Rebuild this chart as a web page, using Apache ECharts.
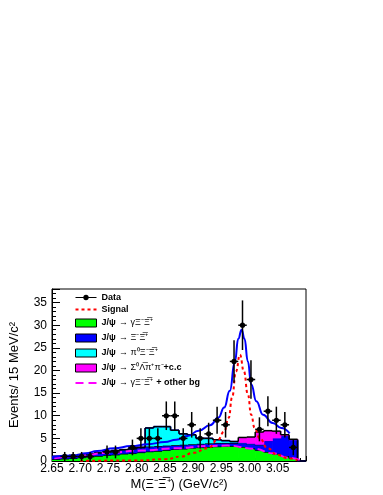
<!DOCTYPE html>
<html>
<head>
<meta charset="utf-8">
<script src="https://cdn.jsdelivr.net/npm/echarts@6/dist/echarts.min.js"></script>
<style>
html, body { margin: 0; padding: 0; background: #fff; }
#main { width: 383px; height: 495px; }
</style>
</head>
<body>
<div id="main"></div>
<script>
// 30 bins of 15 MeV
var binEdges = [2.650, 2.665, 2.680, 2.695, 2.710, 2.725, 2.740, 2.755, 2.770, 2.785,
                2.800, 2.815, 2.830, 2.845, 2.860, 2.875, 2.890, 2.905, 2.920, 2.935,
                2.950, 2.965, 2.980, 2.995, 3.010, 3.025, 3.040, 3.055, 3.070, 3.085, 3.100];

var dataCounts = [null, 1, 1, 1, 1, null, 2, 2, null, 3, 5, 5, 5, 10, 10,
                  5, 8, 5, 6, 9, 8, 22, 30, 18, 7, 11, 9, 8, 3, null];
var dataErrors = [null, 1, 1, 1, 1, null, 1.41, 1.41, null, 1.73, 2.24, 2.24, 2.24, 3.16, 3.16,
                  2.24, 2.83, 2.24, 2.45, 3, 2.83, 4.69, 5.48, 4.24, 2.65, 3.32, 3, 2.83, 1.73, null];

// stacked background histograms (bottom to top)
var gammaXiXi   = [0.4, 0.5, 0.6, 0.8, 1.0, 1.1, 1.3, 1.4, 1.6, 1.7, 1.9, 2.1, 2.2, 2.4, 2.6,
                   2.7, 2.9, 3.0, 3.1, 3.2, 3.3, 3.3, 3.1, 2.8, 2.4, 2.0, 1.6, 1.1, 0.6, 0];
var xiXi        = [0.6, 0.6, 0.6, 0.6, 0.6, 0.7, 0.8, 0.9, 0.9, 1.0, 1.1, 1.1, 1.1, 1.0, 0.9,
                   0.9, 0.8, 0.8, 0.8, 0.8, 0.7, 0.7, 0.8, 0.9, 1.1, 2.4, 3.4, 4.4, 4.0, 0];
var pi0XiXi     = [0, 0, 0, 0, 0, 0, 0, 0, 0, 0, 0, 4.1, 4.3, 4.2, 3.3,
                   2.4, 2.1, 1.2, 1.1, 0.7, 0.5, 0.3, 0.1, 0.1, 0.1, 0, 0, 0, 0, 0];
var sigmaLambda = [0, 0, 0, 0, 0, 0, 0, 0, 0, 0, 0, 0, 0, 0, 0,
                   0, 0, 0, 0, 0, 0, 0, 1.2, 1.5, 2.8, 2.3, 1.6, 0.3, 0.2, 0];

// fit curves [mass, events]
var totalFit = [[2.650, 0.9], [2.690, 1.2], [2.710, 1.7], [2.730, 2.2], [2.760, 2.8], [2.790, 3.3],
                [2.820, 3.7], [2.850, 4.2], [2.870, 4.7], [2.890, 5.5], [2.910, 6.7], [2.930, 7.9],
                [2.945, 9.6], [2.955, 11.8], [2.965, 15.5], [2.974, 22], [2.980, 27], [2.986, 29],
                [2.991, 27], [2.997, 22], [3.003, 16.9], [3.012, 13.2], [3.024, 10.2], [3.041, 8.4],
                [3.056, 7.3], [3.071, 6.1]];
var signalFit = [[2.700, 0.05], [2.800, 0.1], [2.850, 0.4], [2.880, 1.0], [2.900, 1.8], [2.926, 2.8],
                 [2.944, 4.7], [2.955, 6.5], [2.963, 9.5], [2.969, 14], [2.976, 19.8], [2.983, 23.5],
                 [2.990, 19.8], [2.997, 14.7], [3.003, 10.2], [3.009, 7.3], [3.018, 5.0], [3.032, 2.8],
                 [3.050, 1.3], [3.068, 0.6], [3.085, 0.2]];
var otherBg = [[2.654, 0.6], [2.700, 1.2], [2.749, 1.8], [2.808, 2.3], [2.867, 2.8], [2.926, 3.3],
               [2.961, 3.4], [3.009, 2.7], [3.041, 1.7], [3.070, 0.7], [3.090, 0.2]];

var stackOrder = [gammaXiXi, xiXi, pi0XiXi, sigmaLambda];

// rows: [low, high, base, top, nextTop]
function stackRows(level) {
    var rows = [];
    var cum = function (i, k) {
        var s = 0;
        for (var j = 0; j <= k; j++) s += stackOrder[j][i];
        return s;
    };
    var n = stackOrder[level].length;
    for (var i = 0; i < n; i++) {
        var base = level > 0 ? cum(i, level - 1) : 0;
        var top = cum(i, level);
        var nextTop = i + 1 < n ? cum(i + 1, level) : 0;
        rows.push([binEdges[i], binEdges[i + 1], base, top, nextTop]);
    }
    return rows;
}

function histSeries(name, level, fill, edge) {
    return {
        name: name,
        type: 'custom',
        z: 2 + level * 0.1,
        encode: { x: [0, 1], y: [2, 3] },
        itemStyle: { color: fill },
        data: stackRows(level),
        renderItem: function (params, api) {
            var lo = api.value(0), hi = api.value(1);
            var base = api.value(2), top = api.value(3), next = api.value(4);
            var a = api.coord([lo, base]);
            var b = api.coord([hi, top]);
            var c = api.coord([hi, next]);
            var st = { stroke: edge, lineWidth: 1.5 };
            var children = [];
            if (top > base) {
                children.push({ type: 'rect',
                    shape: { x: a[0], y: b[1], width: b[0] - a[0] + 0.7, height: a[1] - b[1] },
                    style: { fill: fill, lineWidth: 0 } });
            }
            children.push({ type: 'line', shape: { x1: a[0], y1: b[1], x2: b[0], y2: b[1] }, style: st, z2: 5 });
            if (next !== top) {
                children.push({ type: 'line', shape: { x1: b[0], y1: b[1], x2: b[0], y2: c[1] }, style: st, z2: 5 });
            }
            return { type: 'group', children: children };
        }
    };
}

var points = [];
for (var i = 0; i < dataCounts.length; i++) {
    if (dataCounts[i] === null) continue;
    points.push([(binEdges[i] + binEdges[i + 1]) / 2, dataCounts[i], dataErrors[i], binEdges[i], binEdges[i + 1]]);
}

var font = 'Liberation Sans, Arial, sans-serif';

var labels = {
    'Data': '{b|Data}',
    'Signal': '{b|Signal}',
    'gammaXiXi': '{b|J/ψ} {s|→ γΞ⁻Ξ̅⁺}',
    'xiXi': '{b|J/ψ} {s|→ Ξ⁻Ξ̅⁺}',
    'pi0XiXi': '{b|J/ψ} {s|→ π⁰Ξ⁻Ξ̅⁺}',
    'sigmaLambda': '{b|J/ψ} {s|→ Σ⁰Λ̅π⁺π⁻}{b|+c.c}',
    'otherBg': '{b|J/ψ} {s|→ γΞ⁻Ξ̅⁺} {b|+ other bg}'
};

function boxItem(name, color) {
    return { name: name, icon: 'rect', itemStyle: { color: color, borderColor: '#000', borderWidth: 1 } };
}

var myChart = echarts.init(document.getElementById('main'));
var option = {
    animation: false,
    backgroundColor: '#fff',
    grid: { left: 50, right: 77, top: 289, bottom: 34, show: true, borderColor: '#000', borderWidth: 1 },
    legend: {
        orient: 'vertical',
        left: 75,
        top: 293,
        itemWidth: 21,
        itemHeight: 8,
        itemGap: 3,
        padding: 0,
        selectedMode: false,
        formatter: function (name) { return labels[name]; },
        textStyle: {
            padding: [0, 0, 0, 0],
            rich: {
                b: { fontFamily: font, fontWeight: 'bold', fontSize: 9, color: '#000', lineHeight: 11 },
                s: { fontFamily: font, fontSize: 9, color: '#000', lineHeight: 11 }
            }
        },
        data: [
            { name: 'Data', icon: 'path://M0,3.4 L22,3.4 L22,4.6 L0,4.6 Z M8.2,4 A2.8,2.8 0 1,1 13.8,4 A2.8,2.8 0 1,1 8.2,4 Z',
              itemStyle: { color: '#000' } },
            { name: 'Signal', icon: 'path://M0,0 h3 v2 h-3 Z M6,0 h3 v2 h-3 Z M12,0 h3 v2 h-3 Z M18,0 h3 v2 h-3 Z',
              itemStyle: { color: '#ff0000' } },
            boxItem('gammaXiXi', '#00ff00'),
            boxItem('xiXi', '#0000ff'),
            boxItem('pi0XiXi', '#00ffff'),
            boxItem('sigmaLambda', '#ff00ff'),
            { name: 'otherBg', icon: 'path://M0,0 h8 v2 h-8 Z M13,0 h8 v2 h-8 Z',
              itemStyle: { color: '#ff00ff' } }
        ]
    },
    xAxis: {
        type: 'value',
        min: 2.65,
        max: 3.10,
        interval: 0.05,
        name: 'M(Ξ⁻Ξ̅⁺) (GeV/c²)',
        nameLocation: 'middle',
        nameGap: 17,
        nameTextStyle: { fontFamily: font, fontSize: 13, color: '#000' },
        axisLine: { show: true, lineStyle: { color: '#000', width: 1 } },
        axisTick: { inside: true, length: 5, lineStyle: { color: '#000' } },
        minorTick: { show: true, splitNumber: 5, length: 3, lineStyle: { color: '#000' } },
        splitLine: { show: false },
        axisLabel: {
            fontFamily: font, fontSize: 12, color: '#000', margin: 2,
            showMaxLabel: false,
            formatter: function (v) { return v.toFixed(2); }
        }
    },
    yAxis: {
        type: 'value',
        min: 0,
        max: 38,
        interval: 5,
        name: 'Events/ 15 MeV/c²',
        nameLocation: 'middle',
        nameRotate: 90,
        nameGap: 31,
        nameTextStyle: { fontFamily: font, fontSize: 13, color: '#000' },
        axisLine: { show: true, lineStyle: { color: '#000', width: 1 } },
        axisTick: { inside: true, length: 8, lineStyle: { color: '#000' } },
        minorTick: { show: true, splitNumber: 5, length: 4, lineStyle: { color: '#000' } },
        splitLine: { show: false },
        axisLabel: { fontFamily: font, fontSize: 12, color: '#000', margin: 5, showMaxLabel: false }
    },
    series: [
        histSeries('gammaXiXi', 0, '#00ff00', '#000'),
        histSeries('xiXi', 1, '#0000ff', '#000'),
        histSeries('pi0XiXi', 2, '#00ffff', '#0000ff'),
        histSeries('sigmaLambda', 3, '#ff00ff', '#000'),
        {
            name: 'otherBg', type: 'line', symbol: 'none', smooth: true, smoothMonotone: 'x', z: 3,
            lineStyle: { color: '#ff00ff', width: 2, type: [8, 4] },
            itemStyle: { color: '#ff00ff' },
            data: otherBg
        },
        {
            name: 'Total', type: 'line', symbol: 'none', smooth: true, smoothMonotone: 'x', z: 4,
            lineStyle: { color: '#0000ff', width: 2 },
            data: totalFit
        },
        {
            name: 'Signal', type: 'line', symbol: 'none', smooth: true, smoothMonotone: 'x', z: 4,
            lineStyle: { color: '#ff0000', width: 2, type: [3, 3] },
            itemStyle: { color: '#ff0000' },
            data: signalFit
        },
        {
            name: 'Data', type: 'custom', z: 5,
            encode: { x: 0, y: 1 },
            itemStyle: { color: '#000' },
            data: points,
            renderItem: function (params, api) {
                var xc = api.value(0), n = api.value(1), e = api.value(2);
                var p = api.coord([xc, n]);
                var top = api.coord([xc, n + e]);
                var bot = api.coord([xc, Math.max(0, n - e)]);
                var l = api.coord([api.value(3), n]);
                var r = api.coord([api.value(4), n]);
                var st = { stroke: '#000', lineWidth: 1.5 };
                return {
                    type: 'group',
                    children: [
                        { type: 'line', shape: { x1: p[0], y1: top[1], x2: p[0], y2: bot[1] }, style: st },
                        { type: 'line', shape: { x1: l[0], y1: p[1], x2: r[0], y2: p[1] }, style: st },
                        { type: 'circle', shape: { cx: p[0], cy: p[1], r: 2.6 }, style: { fill: '#000' } }
                    ]
                };
            }
        }
    ]
};
myChart.setOption(option);
</script>
</body>
</html>
